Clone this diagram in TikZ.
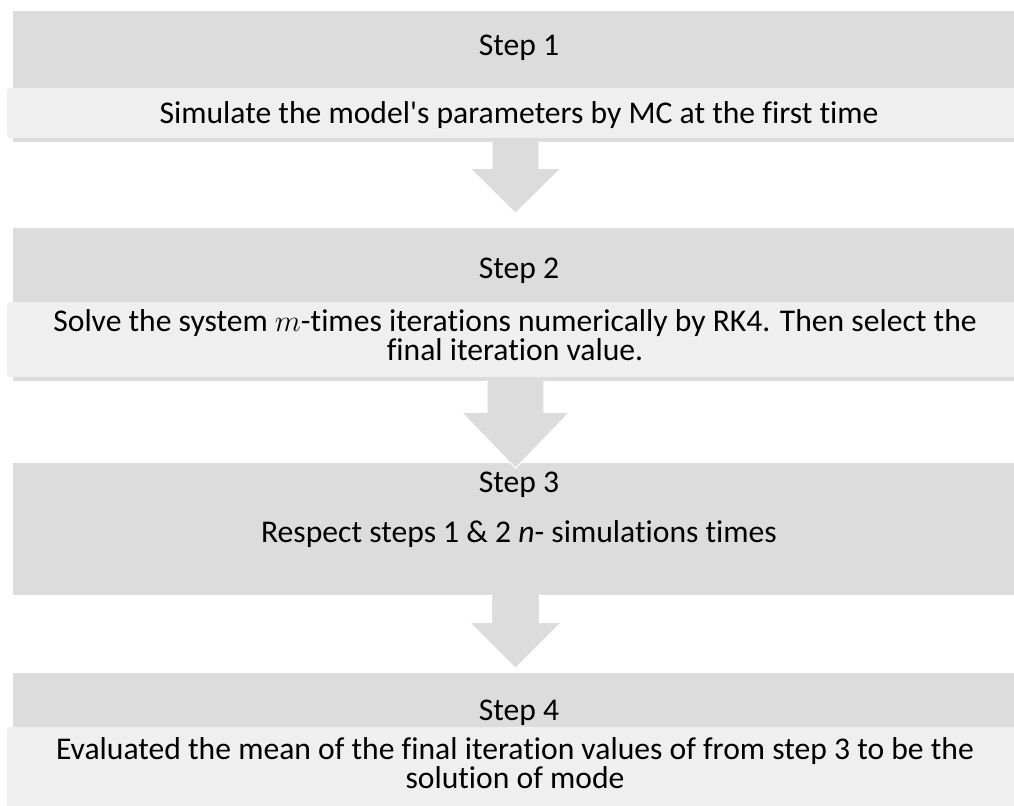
\documentclass[tikz,border=0pt]{standalone}
\usepackage{fontspec}
\setmainfont{Carlito}[Ligatures=NoCommon]
\usepackage{xcolor}
\usetikzlibrary{calc}

\definecolor{boxgray}{RGB}{220,220,220}
\definecolor{bandgray}{RGB}{239,239,239}

\tikzset{
  stepbox/.style={fill=boxgray, inner sep=0pt, minimum width=20.1cm},
  bandbox/.style={fill=bandgray, rounded corners=1.5pt, inner sep=0pt, minimum width=20.34cm},
  steptext/.style={anchor=base, inner sep=0pt, align=center, font=\fontsize{18}{14.2}\selectfont},
  blockarrow/.style={fill=boxgray, draw=white, line width=0.6pt}
}

\begin{document}
\begin{tikzpicture}[x=0.02cm,y=-0.02cm]
\useasboundingbox (0,0) rectangle (1014,805);
%% boxes of the four steps
\node[stepbox, minimum height=2.62cm] (s1) at (515.5,76.5) {};
\node[stepbox, minimum height=3.06cm] (s2) at (515.5,304.5) {};
\node[stepbox, minimum height=2.64cm] (s3) at (515.5,529) {};
\node[stepbox, minimum height=2.78cm] (s4) at (515.5,742) {};
%% lighter bands
\node[bandbox, minimum height=1cm] (b1) at (515.5,113) {};
\node[bandbox, minimum height=1.5cm] (b2) at (515.5,339.5) {};
\node[bandbox, minimum height=1.64cm] (b4) at (515.5,768) {};
%% block arrows
\foreach \src/\sw/\sl/\hw/\hl in {s1/23.5/26/45.5/45, s2/28.5/31/54/56, s3/24/27/46/46}
  \filldraw[blockarrow] ($(\src.south)+(-\sw,-1)$) -- ++(0,\sl+1) -- ++({\sw-\hw},0)
     -- ($(\src.south)+(0,\sl+\hl)$) -- ($(\src.south)+(\hw,\sl)$) -- ++({\sw-\hw},0) -- ++(0,-\sl-1);
%% texts (base of a two-line text is its last line)
\node[steptext] (h1) at (519,55) {Step 1};
\node[steptext] (t1) at (519,123) {Simulate the model\textquotesingle s parameters by MC at the first time};
\node[steptext] (h2) at (519,278) {Step 2};
\node[steptext] (t2) at (515,360) {Solve the system $m$-times iterations numerically by RK4. Then select the\\ final iteration value.};
\node[steptext] (h3) at (519,492) {Step 3};
\node[steptext] (t3) at (519,542) {Respect steps 1 \& 2 \textit{n}- simulations times};
\node[steptext] (h4) at (519,720) {Step 4};
\node[steptext] (t4) at (515,788) {Evaluated the mean of the final iteration values of from step 3 to be the\\ solution of mode};
\end{tikzpicture}
\end{document}
